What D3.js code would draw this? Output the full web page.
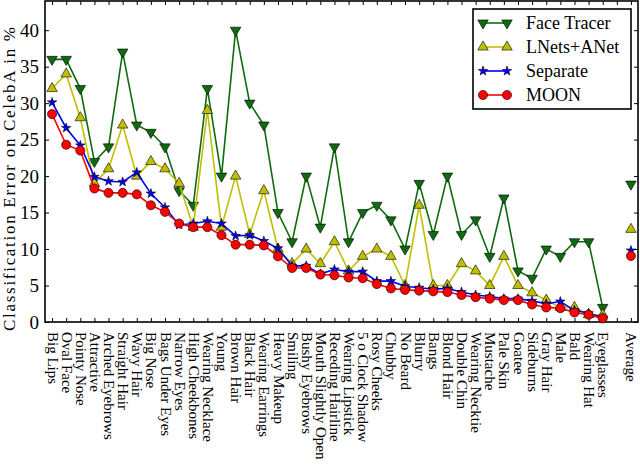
<!DOCTYPE html>
<html>
<head>
<meta charset="utf-8">
<script src="https://cdn.jsdelivr.net/npm/d3@7"></script>
<style>
  body { margin: 0; background: #fff; }
  svg { display: block; }
</style>
</head>
<body>
<div id="graph"></div>
<script>
const categories = ['Big Lips', 'Oval Face', 'Pointy Nose', 'Attractive', 'Arched Eyebrows',
  'Straight Hair', 'Wavy Hair', 'Big Nose', 'Bags Under Eyes', 'Narrow Eyes',
  'High Cheekbones', 'Wearing Necklace', 'Young', 'Brown Hair', 'Black Hair',
  'Wearing Earrings', 'Heavy Makeup', 'Smiling', 'Bushy Eyebrows', 'Mouth Slightly Open',
  'Receding Hairline', 'Wearing Lipstick', '5 o Clock Shadow', 'Rosy Cheeks', 'Chubby',
  'No Beard', 'Blurry', 'Bangs', 'Blond Hair', 'Double Chin',
  'Wearing Necktie', 'Mustache', 'Pale Skin', 'Goatee', 'Sideburns',
  'Gray Hair', 'Male', 'Bald', 'Wearing Hat', 'Eyeglasses'];

const faceTracer = [36, 36, 32, 22, 24, 37, 27, 26, 24, 18, 16, 32, 20, 40, 30, 27, 15, 11, 20, 13,
  24, 11, 15, 16, 14, 10, 19, 12, 20, 12, 14, 9, 17, 7, 6, 10, 9, 11, 11, 2];
const lnetsAnet = [32, 34, 28, 19, 21, 27, 20, 22, 21, 19, 13, 29, 13, 20, 12, 18, 10, 8, 10, 8,
  11, 7, 9, 10, 9, 5, 16, 5, 5, 8, 7, 5, 9, 5, 4, 3, 2, 2, 1, 1];
const separate = [30.1, 26.6, 24.2, 19.9, 19.3, 19.2, 20.5, 17.6, 15.7, 13.3, 13.5, 13.8, 13.5, 11.8, 11.9,
  11.1, 10.1, 7.7, 7.7, 6.6, 7.2, 6.9, 6.9, 5.6, 5.6, 4.9, 4.7, 4.5, 4.6, 4.1,
  3.7, 3.5, 3.2, 3.2, 2.9, 2.5, 2.8, 1.6, 1.2, 0.6];
const moon = [28.5, 24.3, 23.5, 18.3, 17.7, 17.7, 17.5, 16.0, 15.1, 13.5, 13.0, 13.0, 11.9, 10.6, 10.6,
  10.5, 9.0, 7.4, 7.4, 6.5, 6.4, 6.1, 6.0, 5.2, 4.6, 4.4, 4.3, 4.2, 4.1, 3.7,
  3.4, 3.2, 3.0, 3.0, 2.4, 2.0, 1.9, 1.3, 1.0, 0.5];
const averages = [18.9, 12.7, 9.8, 9.06];   // Face Tracer, LNets+ANet, Separate, MOON
const seriesNames = ['Face Tracer', 'LNets+ANet', 'Separate', 'MOON'];
const yTicks = [0, 5, 10, 15, 20, 25, 30, 35, 40];

const width = 640;
const height = 469;
const serif = '"Liberation Serif", "DejaVu Serif", serif';

// x labels: 40 attributes, an empty slot, then Average
const xLabels = categories.concat(['', 'Average']);

const xScale = d3.scaleLinear()
  .domain([-0.5, xLabels.length - 0.5])
  .range([45, 638]);

const yScale = d3.scaleLinear()
  .domain([0, 44])
  .range([322, 1]);

const svg = d3.select('#graph')
  .append('svg')
  .attr('width', width)
  .attr('height', height);

const styles = [
  {color: '#0f6b0f', symbol: d3.symbolTriangle, size: 48, rot: 180},
  {color: '#bfbf00', symbol: d3.symbolTriangle, size: 48, rot: 0},
  {color: '#0000ff', symbol: d3.symbolStar, size: 28, rot: 0},
  {color: '#ff0000', symbol: d3.symbolCircle, size: 66, rot: 0}
];
const seriesData = [faceTracer, lnetsAnet, separate, moon];

// axes with inward ticks on all four sides
const xBottom = d3.axisBottom(xScale)
  .tickValues(d3.range(xLabels.length))
  .tickSize(-4)
  .tickFormat(i => xLabels[i]);

svg.append('g')
  .attr('transform', 'translate(0, 322)')
  .call(xBottom)
  .call(g => g.select('.domain').remove())
  .call(g => g.selectAll('text')
    .attr('font-family', serif)
    .attr('font-size', 15)
    .attr('fill', '#000')
    .attr('transform', 'rotate(90)')
    .attr('x', 10)
    .attr('y', 0)
    .attr('dy', '0.33em')
    .attr('text-anchor', 'start'));

svg.append('g')
  .attr('transform', 'translate(0, 1)')
  .call(d3.axisTop(xScale).tickValues(d3.range(xLabels.length)).tickSize(-4).tickFormat(''))
  .call(g => g.select('.domain').remove());

svg.append('g')
  .attr('transform', 'translate(45, 0)')
  .call(d3.axisLeft(yScale).tickValues(yTicks).tickSize(-4).tickPadding(6))
  .call(g => g.select('.domain').remove())
  .call(g => g.selectAll('text')
    .attr('font-family', serif)
    .attr('font-size', 19)
    .attr('fill', '#000'));

svg.append('g')
  .attr('transform', 'translate(638, 0)')
  .call(d3.axisRight(yScale).tickValues(yTicks).tickSize(-4).tickFormat(''))
  .call(g => g.select('.domain').remove());

svg.selectAll('.tick line').attr('stroke', '#000').attr('stroke-width', 1);

svg.append('rect')
  .attr('x', 45)
  .attr('y', 1)
  .attr('width', 593)
  .attr('height', 321)
  .attr('fill', 'none')
  .attr('stroke', '#000')
  .attr('stroke-width', 1.6);

svg.append('text')
  .attr('transform', 'translate(15, 179) rotate(-90)')
  .attr('text-anchor', 'middle')
  .attr('font-family', serif)
  .attr('font-size', 17)
  .attr('textLength', 304)
  .attr('lengthAdjust', 'spacing')
  .text('Classification Error on CelebA in %');

// series lines + markers
const line = d3.line()
  .x((d, i) => xScale(i))
  .y(d => yScale(d));

const drawMarker = (g, s, cx, cy) => {
  g.append('path')
    .attr('d', d3.symbol().type(s.symbol).size(s.size)())
    .attr('transform', `translate(${cx}, ${cy}) rotate(${s.rot})`)
    .attr('fill', s.color)
    .attr('stroke', '#000')
    .attr('stroke-width', 0.6);
};

seriesData.forEach((values, k) => {
  const s = styles[k];
  const g = svg.append('g');
  g.append('path')
    .datum(values)
    .attr('d', line)
    .attr('fill', 'none')
    .attr('stroke', s.color)
    .attr('stroke-width', 1.6);
  values.forEach((v, i) => drawMarker(g, s, xScale(i), yScale(v)));
  drawMarker(g, s, xScale(xLabels.length - 1), yScale(averages[k]));
});

// legend
const legend = svg.append('g');
legend.append('rect')
  .attr('x', 473)
  .attr('y', 9)
  .attr('width', 158)
  .attr('height', 100)
  .attr('fill', '#fff')
  .attr('stroke', '#000')
  .attr('stroke-width', 1.6);

seriesNames.forEach((name, k) => {
  const s = styles[k];
  const ly = 23 + k * 24;
  legend.append('line')
    .attr('x1', 483).attr('x2', 507)
    .attr('y1', ly).attr('y2', ly)
    .attr('stroke', s.color)
    .attr('stroke-width', 1.6);
  drawMarker(legend, s, 483, ly);
  drawMarker(legend, s, 507, ly);
  legend.append('text')
    .attr('x', 526)
    .attr('y', ly)
    .attr('dy', '0.35em')
    .attr('font-family', serif)
    .attr('font-size', 18)
    .text(name);
});
</script>
</body>
</html>
